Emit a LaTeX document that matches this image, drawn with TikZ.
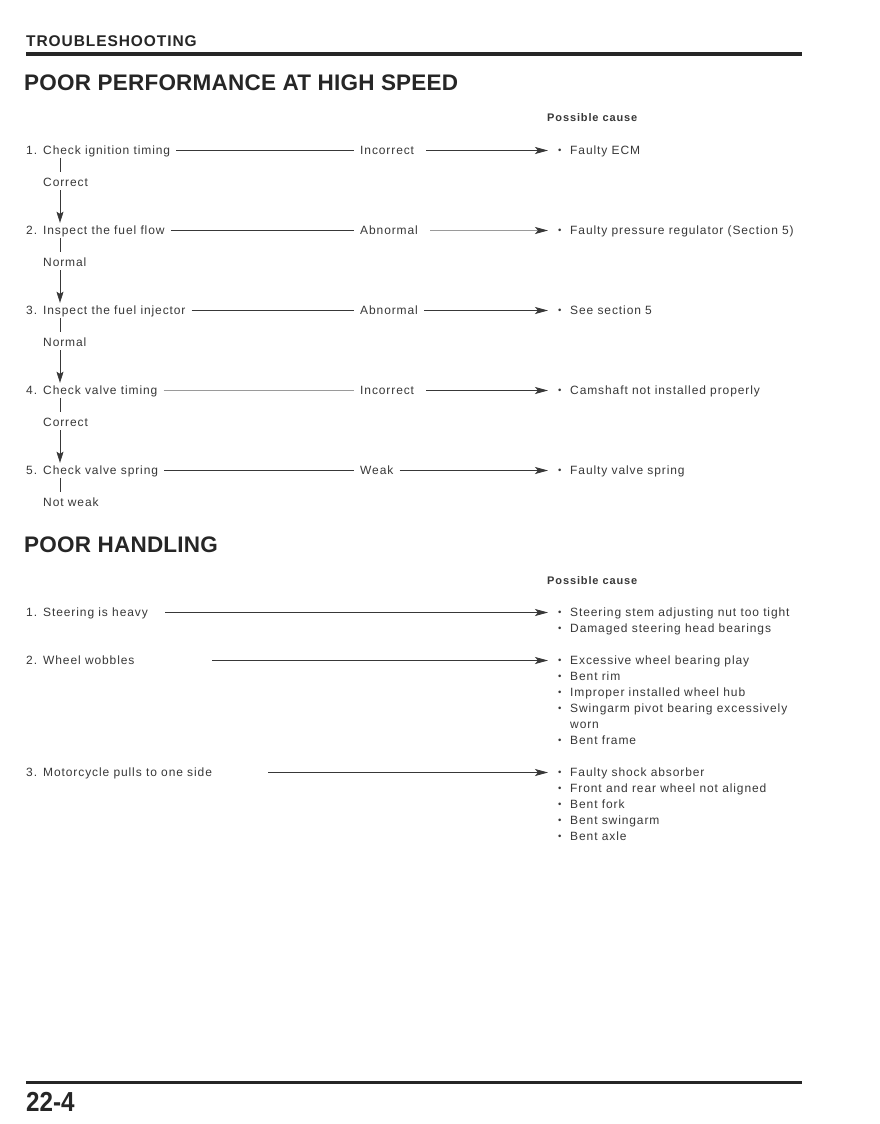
\documentclass[tikz,border=0pt]{standalone}
\usepackage{fontspec}
\setmainfont{Liberation Sans}
\usetikzlibrary{arrows.meta}
\definecolor{ink}{HTML}{383838}
\definecolor{inkd}{HTML}{262626}
\definecolor{inkl}{HTML}{9A9A9A}
\newfontfamily\bodyf[LetterSpace=7.5]{Liberation Sans}
\newfontfamily\headf[LetterSpace=1]{Liberation Sans}
\newfontfamily\capf[LetterSpace=6]{Liberation Sans}
\newfontfamily\pcf[LetterSpace=8]{Liberation Sans}
\newcommand\cbul{\makebox[13pt][l]{\hspace{1pt}\raisebox{0.4pt}{\fontsize{9.5}{9}\selectfont\textbullet}}}
\newcommand\nbr[1]{\makebox[17pt][l]{#1}}
\tikzset{
  txt/.style={font=\bodyf\fontsize{12}{13}\selectfont, text=ink, inner xsep=6pt, inner ysep=2pt,
              text height=9pt, text depth=2pt, anchor=base west},
  cause/.style={txt, inner xsep=9pt},
  sub/.style={txt},
  flow/.style={draw=ink, line width=0.8pt},
  faint/.style={draw=inkl, line width=0.8pt},
  arr/.style={flow, -{Stealth[length=13pt,width=7pt,inset=3pt,color=ink]}},
  farr/.style={faint, -{Stealth[length=13pt,width=7pt,inset=3pt,color=ink]}},
  varr/.style={flow, -{Stealth[length=11pt,width=7pt,inset=2pt]}},
  pcause/.style={font=\pcf\bfseries\fontsize{11}{13}\selectfont, text=ink, anchor=base west, inner sep=0pt},
  heading/.style={font=\headf\bfseries\fontsize{22.5}{26}\selectfont, text=inkd, anchor=base west, inner sep=0pt},
}
\begin{document}
\begin{tikzpicture}[x=1pt,y=-1pt]
\useasboundingbox[fill=white] (0,0) rectangle (879,1124);

% header
\node[font=\capf\bfseries\fontsize{15.5}{18}\selectfont, text=inkd, anchor=base west, inner sep=0pt] (hdr) at (26,47) {TROUBLESHOOTING};
\draw[inkd, line width=3.5pt] (26,54) -- (802,54);
\node[heading] (h1) at (24,90) {POOR PERFORMANCE AT HIGH SPEED};

\node[pcause] (pc1) at (547,121) {Possible cause};

\coordinate (vx) at (60,0);

% step 1
\node[txt] (s1) at (20,154) {\nbr{1.}Check ignition timing};
\node[txt] (r1) at (354,154) {Incorrect};
\node[cause] (c1) at (548,154) {\cbul Faulty ECM};
\node[sub] (k1) at (37,186) {Correct};
% step 2
\node[txt] (s2) at (20,234) {\nbr{2.}Inspect the fuel flow};
\node[txt] (r2) at (354,234) {Abnormal};
\node[cause] (c2) at (548,234) {\cbul Faulty pressure regulator (Section 5)};
\node[sub] (k2) at (37,266) {Normal};
% step 3
\node[txt] (s3) at (20,314) {\nbr{3.}Inspect the fuel injector};
\node[txt] (r3) at (354,314) {Abnormal};
\node[cause] (c3) at (548,314) {\cbul See section 5};
\node[sub] (k3) at (37,346) {Normal};
% step 4
\node[txt] (s4) at (20,394) {\nbr{4.}Check valve timing};
\node[txt] (r4) at (354,394) {Incorrect};
\node[cause] (c4) at (548,394) {\cbul Camshaft not installed properly};
\node[sub] (k4) at (37,426) {Correct};
% step 5
\node[txt] (s5) at (20,474) {\nbr{5.}Check valve spring};
\node[txt] (r5) at (354,474) {Weak};
\node[cause] (c5) at (548,474) {\cbul Faulty valve spring};
\node[sub] (k5) at (37,506) {Not weak};

% horizontal connectors
\draw[flow] (s1) -- (r1);
\draw[arr, shorten <=6pt] (r1) -- (c1);
\draw[flow] (s2) -- (r2);
\draw[farr, shorten <=6pt] (r2) -- (c2);
\draw[flow] (s3) -- (r3);
\draw[arr] (r3) -- (c3);
\draw[faint] (s4) -- (r4);
\draw[arr, shorten <=6pt] (r4) -- (c4);
\draw[flow] (s5) -- (r5);
\draw[arr] (r5) -- (c5);

% vertical connectors
\draw[flow, shorten >=3pt] (s1.south -| vx) -- (k1.north -| vx);
\draw[varr] (k1.south -| vx) -- (s2.north -| vx);
\draw[flow, shorten >=3pt] (s2.south -| vx) -- (k2.north -| vx);
\draw[varr] (k2.south -| vx) -- (s3.north -| vx);
\draw[flow, shorten >=3pt] (s3.south -| vx) -- (k3.north -| vx);
\draw[varr] (k3.south -| vx) -- (s4.north -| vx);
\draw[flow, shorten >=3pt] (s4.south -| vx) -- (k4.north -| vx);
\draw[varr] (k4.south -| vx) -- (s5.north -| vx);
\draw[flow, shorten >=3pt] (s5.south -| vx) -- (k5.north -| vx);

% poor handling
\node[heading] (h2) at (24,552) {POOR HANDLING};
\node[pcause] (pc2) at (547,584) {Possible cause};

\node[txt] (t1) at (20,616) {\nbr{1.}Steering is heavy};
\node[cause] (d1) at (548,616) {\cbul Steering stem adjusting nut too tight};
\node[cause] (d1b) at (548,632) {\cbul Damaged steering head bearings};

\node[txt] (t2) at (20,664) {\nbr{2.}Wheel wobbles};
\node[cause] (d2) at (548,664) {\cbul Excessive wheel bearing play};
\node[cause] (d2b) at (548,680) {\cbul Bent rim};
\node[cause] (d2c) at (548,696) {\cbul Improper installed wheel hub};
\node[cause] (d2d) at (548,712) {\cbul Swingarm pivot bearing excessively};
\node[cause] (d2e) at (548,728) {\makebox[13pt][l]{}worn};
\node[cause] (d2f) at (548,744) {\cbul Bent frame};

\node[txt] (t3) at (20,776) {\nbr{3.}Motorcycle pulls to one side};
\node[cause] (d3) at (548,776) {\cbul Faulty shock absorber};
\node[cause] (d3b) at (548,792) {\cbul Front and rear wheel not aligned};
\node[cause] (d3c) at (548,808) {\cbul Bent fork};
\node[cause] (d3d) at (548,824) {\cbul Bent swingarm};
\node[cause] (d3e) at (548,840) {\cbul Bent axle};

\coordinate (a1) at (165,0);
\coordinate (a2) at (212,0);
\coordinate (a3) at (268,0);
\draw[arr] (d1.west -| a1) -- (d1.west);
\draw[arr] (d2.west -| a2) -- (d2.west);
\draw[arr] (d3.west -| a3) -- (d3.west);

% footer
\draw[inkd, line width=3pt] (26,1082) -- (802,1082);
\node[font=\bfseries\fontsize{27.5}{30}\selectfont, text=inkd, anchor=base west, inner sep=0pt] (pg) at (26,1111) {\scalebox{0.88}[1]{22-4}};
\end{tikzpicture}
\end{document}
